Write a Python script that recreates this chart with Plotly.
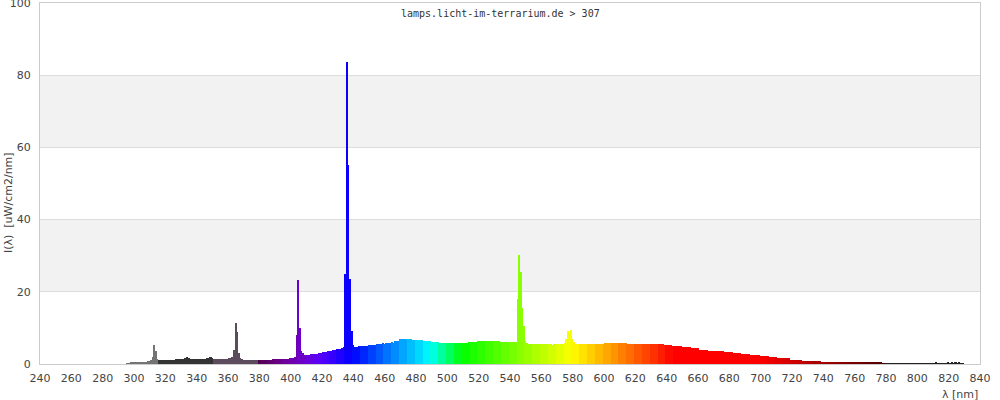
import plotly.graph_objects as go

# Wavelength grid (nm), 1 nm steps from 296 to 829
wavelength_start = 296
wavelength_end = 829

# Irradiance values I(lambda) [uW/cm2/nm], one per nm
intensity = [
    0.2, 0.2, 0.3, 0.3,                                   # 296-299
    0.4, 0.4, 0.4, 0.5, 0.5, 0.5, 0.6, 0.6, 0.6, 0.7,     # 300-309
    0.8, 1.0, 2.0, 5.4, 3.5, 1.4, 1.2, 1.2, 1.2, 1.2,     # 310-319
    1.2, 1.2, 1.2, 1.2, 1.2, 1.2, 1.2, 1.3, 1.3, 1.4,     # 320-329
    1.5, 1.5, 1.5, 1.6, 2.0, 1.6, 1.5, 1.5, 1.5, 1.5,     # 330-339
    1.5, 1.5, 1.5, 1.5, 1.5, 1.5, 1.5, 1.6, 1.8, 1.9,     # 340-349
    1.8, 1.5, 1.5, 1.5, 1.5, 1.5, 1.5, 1.5, 1.5, 1.5,     # 350-359
    1.5, 1.6, 1.7, 2.0, 4.0, 11.3, 9.0, 3.0, 1.6, 1.3,    # 360-369
    1.2, 1.2, 1.1, 1.1, 1.1, 1.1, 1.1, 1.1, 1.1, 1.1,     # 370-379
    1.1, 1.1, 1.1, 1.1, 1.2, 1.2, 1.2, 1.2, 1.2, 1.3,     # 380-389
    1.3, 1.3, 1.3, 1.3, 1.3, 1.3, 1.3, 1.3, 1.4, 1.4,     # 390-399
    1.6, 1.6, 1.7, 2.0, 8.0, 23.3, 10.0, 3.7, 3.0, 2.5,   # 400-409
    2.5, 2.5, 2.5, 2.8, 2.8, 2.8, 2.8, 2.8, 3.0, 3.0,     # 410-419
    3.0, 3.2, 3.2, 3.2, 3.5, 3.5, 3.5, 3.8, 3.8, 3.8,     # 420-429
    4.1, 4.1, 4.1, 4.5, 4.8, 25.0, 83.7, 55.0, 23.6, 9.2, # 430-439
    5.2, 4.8, 4.8, 4.8, 4.9, 5.0, 5.0, 5.1, 5.0, 5.1,     # 440-449
    5.3, 5.3, 5.2, 5.3, 5.4, 5.6, 5.6, 5.5, 5.6, 5.7,     # 450-459
    5.6, 5.9, 5.9, 5.8, 5.9, 6.0, 5.9, 6.4, 6.3, 6.4,     # 460-469
    6.8, 6.9, 6.8, 6.9, 6.8, 6.9, 6.9, 6.8, 6.7, 6.7,     # 470-479
    6.7, 6.7, 6.7, 6.7, 6.6, 6.4, 6.4, 6.4, 6.4, 6.4,     # 480-489
    6.1, 6.1, 6.1, 6.1, 6.1, 5.8, 5.8, 5.8, 5.8, 5.8,     # 490-499
    5.8, 5.8, 5.8, 5.8, 5.8, 5.8, 5.8, 5.8, 5.8, 5.8,     # 500-509
    5.8, 5.8, 5.8, 5.8, 6.1, 6.1, 6.1, 6.1, 6.1, 6.1,     # 510-519
    6.3, 6.3, 6.3, 6.3, 6.3, 6.3, 6.3, 6.3, 6.3, 6.3,     # 520-529
    6.3, 6.3, 6.3, 6.3, 6.0, 6.0, 6.0, 6.0, 6.0, 6.0,     # 530-539
    6.0, 6.0, 6.0, 6.0, 6.1, 18.0, 30.3, 25.4, 15.5, 10.5,# 540-549
    6.5, 5.7, 5.6, 5.6, 5.6, 5.6, 5.6, 5.6, 5.6, 5.6,     # 550-559
    5.6, 5.6, 5.6, 5.6, 5.6, 5.6, 5.6, 5.4, 5.6, 5.6,     # 560-569
    5.6, 5.6, 5.6, 5.6, 5.6, 5.7, 7.0, 9.2, 8.6, 9.3,     # 570-579
    7.0, 6.0, 5.6, 5.6, 5.6, 5.6, 5.6, 5.6, 5.6, 5.6,     # 580-589
    5.6, 5.6, 5.6, 5.6, 5.6, 5.6, 5.6, 5.6, 5.6, 5.6,     # 590-599
    5.6, 5.8, 5.8, 5.8, 5.8, 5.8, 5.8, 5.8, 5.8, 5.8,     # 600-609
    5.8, 5.8, 5.8, 5.8, 5.8, 5.6, 5.6, 5.6, 5.6, 5.6,     # 610-619
    5.6, 5.6, 5.6, 5.6, 5.6, 5.6, 5.6, 5.6, 5.6, 5.6,     # 620-629
    5.6, 5.6, 5.6, 5.6, 5.5, 5.5, 5.5, 5.5, 5.5, 5.3,     # 630-639
    5.3, 5.3, 5.3, 5.3, 4.9, 4.9, 4.9, 4.9, 4.9, 4.9,     # 640-649
    4.6, 4.6, 4.6, 4.6, 4.6, 4.6, 4.3, 4.3, 4.3, 4.3,     # 650-659
    4.3, 4.0, 4.0, 4.0, 4.0, 4.0, 4.0, 3.7, 3.7, 3.7,     # 660-669
    3.7, 3.7, 3.5, 3.5, 3.5, 3.5, 3.5, 3.2, 3.2, 3.2,     # 670-679
    3.2, 3.2, 3.2, 3.0, 3.0, 3.0, 3.0, 3.0, 2.8, 2.8,     # 680-689
    2.8, 2.8, 2.8, 2.8, 2.5, 2.5, 2.5, 2.5, 2.5, 2.5,     # 690-699
    2.2, 2.2, 2.2, 2.2, 2.2, 2.2, 1.9, 1.9, 1.9, 1.9,     # 700-709
    1.9, 1.6, 1.6, 1.6, 1.6, 1.6, 1.6, 1.6, 1.6, 1.2,     # 710-719
    1.2, 1.2, 1.2, 1.2, 1.2, 1.2, 1.2, 0.95, 0.95, 0.95,  # 720-729
    0.95, 0.95, 0.95, 0.95, 0.95, 0.95, 0.95, 0.95, 0.95, 0.65, # 730-739
    0.65, 0.65, 0.65, 0.65, 0.65, 0.65, 0.65, 0.65, 0.65, 0.65, # 740-749
    0.65, 0.65, 0.65, 0.45, 0.45, 0.45, 0.45, 0.45, 0.45, 0.45, # 750-759
    0.45, 0.45, 0.5, 0.45, 0.45, 0.45, 0.35, 0.35, 0.35, 0.35,  # 760-769
    0.35, 0.35, 0.35, 0.35, 0.35, 0.35, 0.35, 0.35, 0.15, 0.15, # 770-779
    0.15, 0.15, 0.15, 0.15, 0.15, 0.15, 0.15, 0.15, 0.15, 0.15, # 780-789
    0.15, 0.15, 0.15, 0.15, 0.15, 0.15, 0.15, 0.15, 0.15, 0.15, # 790-799
    0.15, 0.15, 0.15, 0.15, 0.15, 0.15, 0.15, 0.15, 0.15, 0.15, # 800-809
    0.15, 0.2, 0.6, 0.2, 0.15, 0.15, 0.15, 0.15, 0.15, 0.15,    # 810-819
    0.3, 0.2, 0.3, 0.2, 0.3, 0.3, 0.2, 0.3, 0.2, 0.15,          # 820-829
]

x_tick_values = [240, 260, 280, 300, 320, 340, 360, 380, 400, 420, 440, 460, 480,
                 500, 520, 540, 560, 580, 600, 620, 640, 660, 680, 700, 720, 740,
                 760, 780, 800, 820, 840]
y_tick_values = [0, 20, 40, 60, 80, 100]
shaded_bands = [(20, 40), (60, 80)]

title_text = "lamps.licht-im-terrarium.de > 307"
x_title = "λ [nm]"
y_title = "I(λ)  [uW/cm2/nm]"

wavelengths = list(range(wavelength_start, wavelength_end + 1))
assert len(wavelengths) == len(intensity), (len(wavelengths), len(intensity))


def spectral_color(lam):
    """Display colour for a wavelength (5 nm blocks)."""
    if lam < 316:
        return "#747474"
    if lam < 351:
        return "#333333"
    if lam < 380:
        return "#5c4b5c"
    if lam >= 780:
        return "#222222"
    w = (lam // 5) * 5 + 2.5
    if w < 440:
        r, g, b = -(w - 440) / 60, 0.0, 1.0
    elif w < 490:
        r, g, b = 0.0, (w - 440) / 50, 1.0
    elif w < 510:
        r, g, b = 0.0, 1.0, -(w - 510) / 20
    elif w < 580:
        r, g, b = (w - 510) / 70, 1.0, 0.0
    elif w < 645:
        r, g, b = 1.0, -(w - 645) / 65, 0.0
    else:
        r, g, b = 1.0, 0.0, 0.0
    if w < 420:
        f = 0.3 + 0.7 * (w - 380) / 40
    elif w > 700:
        f = 0.3 + 0.7 * (780 - w) / 80
    else:
        f = 1.0
    return "rgb(%d,%d,%d)" % (round(255 * r * f), round(255 * g * f), round(255 * b * f))


colors = [spectral_color(l) for l in wavelengths]

fig = go.Figure()
fig.add_trace(go.Bar(
    x=wavelengths,
    y=intensity,
    width=1.0,
    marker=dict(color=colors, line=dict(width=0)),
    hoverinfo="x+y",
))

shapes = []
for y0, y1 in shaded_bands:
    shapes.append(dict(type="rect", xref="paper", yref="y", x0=0, x1=1, y0=y0, y1=y1,
                       fillcolor="#f2f2f2", line=dict(width=0), layer="below"))

tick_font = dict(family="DejaVu Sans", size=11, color="#444444")

fig.update_layout(
    width=1000, height=400,
    margin=dict(l=40, r=20, t=3, b=36),
    paper_bgcolor="white", plot_bgcolor="white",
    bargap=0, showlegend=False,
    shapes=shapes,
    xaxis=dict(range=[240, 840], tickvals=x_tick_values, showgrid=False,
               zeroline=False, showline=True, linecolor="#cccccc", linewidth=1,
               mirror=True, ticks="", tickfont=tick_font, ticklabelstandoff=4,
               automargin=False),
    yaxis=dict(range=[0, 100], tickvals=y_tick_values, showgrid=True,
               gridcolor="#dddddd", gridwidth=1, zeroline=False, showline=True,
               linecolor="#cccccc", linewidth=1, mirror=True, ticks="",
               tickfont=tick_font, ticklabelstandoff=6, ticklabeloverflow="allow",
               automargin=False),
    annotations=[
        dict(text=title_text, xref="paper", yref="paper", x=(500 - 40) / 940, y=1,
             xanchor="center", yanchor="top", yshift=-3, showarrow=False,
             font=dict(family="DejaVu Sans Mono", size=10, color="#333333")),
        dict(text=x_title, xref="paper", yref="paper", x=(960 - 40) / 940,
             y=(364 - 394) / 361, xanchor="center", yanchor="middle", showarrow=False,
             font=dict(family="DejaVu Sans", size=11, color="#444444")),
        dict(text=y_title, xref="paper", yref="paper", x=(8 - 40) / 940,
             y=(364 - 203) / 361, xanchor="center", yanchor="middle", textangle=-90,
             showarrow=False, font=dict(family="DejaVu Sans", size=11, color="#444444")),
    ],
)

fig.write_html("out.html", config={"displayModeBar": False},
               post_script="document.body.style.margin='0px';")
